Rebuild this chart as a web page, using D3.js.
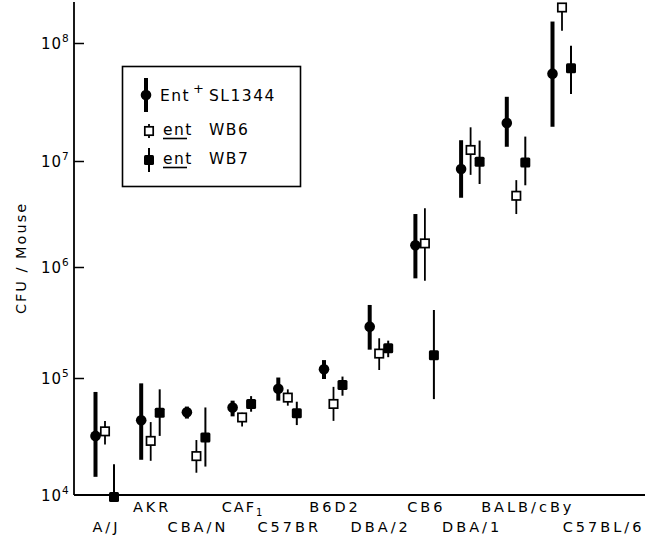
<!DOCTYPE html>
<html>
<head>
<meta charset="utf-8">
<script src="https://cdn.jsdelivr.net/npm/d3@7"></script>
<style>
  body { margin: 0; background: #fff; }
  svg { display: block; font-family: "DejaVu Sans", sans-serif; }
</style>
</head>
<body>
<svg id="chart" width="648" height="537"></svg>
<script>
// mouse strains, left to right
const strains = ["A/J", "AKR", "CBA/N", "CAF1", "C57BR", "B6D2", "DBA/2", "CB6", "DBA/1", "BALB/cBy", "C57BL/6"];

// Ent+ SL1344 (filled circle)
const sl1344   = [3.2e4, 4.35e4, 5.1e4, 5.6e4, 8.1e4, 1.2e5, 2.9e5, 1.6e6, 8.4e6, 2.1e7, 5.5e7];
const sl1344Lo = [1.43e4, 2.0e4, 4.5e4, 4.7e4, 6.4e4, 9.8e4, 1.8e5, 7.9e5, 4.5e6, 1.32e7, 1.95e7];
const sl1344Hi = [7.6e4, 9.0e4, 5.7e4, 6.4e4, 1.01e5, 1.45e5, 4.55e5, 3.16e6, 1.5e7, 3.5e7, 1.52e8];

// ent WB6 (open square)
const wb6   = [3.5e4, 2.9e4, 2.15e4, 4.6e4, 6.8e4, 6.0e4, 1.66e5, 1.67e6, 1.24e7, 4.7e6, 2.0e8];
const wb6Lo = [2.7e4, 1.96e4, 1.55e4, 3.85e4, 5.8e4, 4.3e4, 1.18e5, 7.5e5, 7.4e6, 3.16e6, 1.27e8];
const wb6Hi = [4.3e4, 4.2e4, 2.95e4, 5.05e4, 8.0e4, 8.4e4, 2.28e5, 3.58e6, 1.93e7, 6.6e6, 2.0e8];

// ent WB7 (filled square)
const wb7   = [9.6e3, 5.05e4, 3.1e4, 6.0e4, 5.0e4, 8.7e4, 1.85e5, 1.6e5, 9.85e6, 9.7e6, 6.1e7];
const wb7Lo = [9.6e3, 3.2e4, 1.75e4, 5.15e4, 3.96e4, 7.06e4, 1.54e5, 6.6e4, 6.07e6, 5.9e6, 3.7e7];
const wb7Hi = [1.83e4, 8.0e4, 5.6e4, 7.0e4, 6.27e4, 1.03e5, 2.17e5, 4.1e5, 1.49e7, 1.61e7, 9.5e7];

const yTicks = [1e4, 1e5, 1e6, 1e7, 1e8];

const svg = d3.select("#chart");

// hand drawn decades are not quite even, so one segment per decade
const y = d3.scaleLog()
    .domain([1e4, 1e5, 1e6, 1e7, 1e8])
    .range([495, 378, 267, 161, 43]);

const x = d3.scalePoint()
    .domain(strains)
    .range([105, 562]);

const axisLeftX = 74, axisBottomY = 495;

// y axis, ticks pointing inward
const yAxis = svg.append("g")
    .attr("transform", `translate(${axisLeftX},0)`)
    .call(d3.axisLeft(y).tickValues(yTicks).tickSizeInner(-10).tickSizeOuter(0).tickFormat(""));
yAxis.select(".domain").remove();
yAxis.selectAll(".tick line").attr("stroke", "#000").attr("stroke-width", 1.5);
yAxis.selectAll(".tick").filter(d => d === 1e4).select("line").remove();

svg.append("line")
    .attr("x1", axisLeftX).attr("x2", axisLeftX)
    .attr("y1", 2).attr("y2", axisBottomY)
    .attr("stroke", "#000").attr("stroke-width", 1.8);
svg.append("line")
    .attr("x1", axisLeftX).attr("x2", 645)
    .attr("y1", axisBottomY).attr("y2", axisBottomY)
    .attr("stroke", "#000").attr("stroke-width", 1.8);

// 10^n labels
const yl = svg.append("g").selectAll("text")
    .data(yTicks)
    .enter().append("text")
    .attr("x", 41)
    .attr("y", d => y(d) + 5.5)
    .attr("font-size", 15)
    .attr("fill", "#000");
yl.append("tspan").attr("letter-spacing", 1).text("10");
yl.append("tspan")
    .attr("font-size", 10.5)
    .attr("dy", -7)
    .text(d => Math.round(Math.log10(d)));

svg.append("text")
    .attr("transform", "translate(26,258) rotate(-90)")
    .attr("text-anchor", "middle")
    .attr("font-size", 14.5)
    .attr("letter-spacing", 2)
    .text("CFU / Mouse");

// strain labels, staggered in two rows
const labelShift = { "BALB/cBy": 10, "C57BL/6": 40 };
const xl = svg.append("g").selectAll("text")
    .data(strains)
    .enter().append("text")
    .attr("x", d => x(d) + (labelShift[d] || 0) + 1.5)
    .attr("y", (d, i) => i % 2 === 0 ? 532 : 512)
    .attr("text-anchor", "middle")
    .attr("font-size", 14.5)
    .attr("letter-spacing", 3);
xl.each(function (d) {
    const t = d3.select(this);
    if (d === "CAF1") {
        t.append("tspan").attr("letter-spacing", 2).text("CAF");
        t.append("tspan").attr("font-size", 10).attr("dy", 4).text("1");
    } else {
        t.text(d);
    }
});

// series drawing
const series = [
    { key: "sl1344", v: sl1344, lo: sl1344Lo, hi: sl1344Hi, dx: -9.5, bar: 4, shape: "circle" },
    { key: "wb6", v: wb6, lo: wb6Lo, hi: wb6Hi, dx: 0, bar: 1.8, shape: "open" },
    { key: "wb7", v: wb7, lo: wb7Lo, hi: wb7Hi, dx: 9, bar: 2, shape: "filled" }
];

function drawMarker(g, shape, cx, cy) {
    if (shape === "circle") {
        g.append("circle").attr("cx", cx).attr("cy", cy).attr("r", 5.3).attr("fill", "#000");
    } else if (shape === "open") {
        g.append("rect").attr("x", cx - 4.2).attr("y", cy - 4.2).attr("width", 8.4).attr("height", 8.4)
            .attr("fill", "#fff").attr("stroke", "#000").attr("stroke-width", 1.7);
    } else {
        g.append("rect").attr("x", cx - 5).attr("y", cy - 5).attr("width", 10).attr("height", 10)
            .attr("rx", 1.5).attr("fill", "#000");
    }
}

series.forEach(s => {
    const g = svg.append("g").attr("class", s.key);
    g.selectAll("line")
        .data(strains)
        .enter().append("line")
        .attr("x1", d => x(d) + s.dx).attr("x2", d => x(d) + s.dx)
        .attr("y1", (d, i) => y(s.hi[i]))
        .attr("y2", (d, i) => y(s.lo[i]))
        .attr("stroke", "#000")
        .attr("stroke-width", s.bar);
    strains.forEach((d, i) => drawMarker(g, s.shape, x(d) + s.dx, y(s.v[i])));
});

// legend
const lg = svg.append("g");
lg.append("rect")
    .attr("x", 122.5).attr("y", 66.5).attr("width", 178).attr("height", 120)
    .attr("fill", "#fff").attr("stroke", "#000").attr("stroke-width", 1.6);

const legendRows = [
    { shape: "circle", cy: 95, half: 17, bar: 4, base: 101, pre: "Ent", name: "SL1344" },
    { shape: "open", cy: 131, half: 7, bar: 1.8, base: 135, pre: "ent", name: "WB6" },
    { shape: "filled", cy: 160, half: 12, bar: 2, base: 164, pre: "ent", name: "WB7" }
];
legendRows.forEach((r, i) => {
    const sx = i === 0 ? 146 : 149;
    lg.append("line")
        .attr("x1", sx).attr("x2", sx)
        .attr("y1", r.cy - r.half).attr("y2", r.cy + r.half)
        .attr("stroke", "#000").attr("stroke-width", r.bar);
    drawMarker(lg, r.shape, sx, r.cy);
    const t = lg.append("text")
        .attr("x", i === 0 ? 160 : 163)
        .attr("y", r.base)
        .attr("font-size", 15.5)
        .attr("letter-spacing", 1.5);
    if (i === 0) {
        t.append("tspan").text("Ent");
        t.append("tspan").attr("x", 193).attr("dy", -8).attr("font-size", 13).text("+");
        t.append("tspan").attr("x", 209).attr("dy", 8).text(r.name);
    } else {
        t.append("tspan").text(r.pre);
        t.append("tspan").attr("x", 209).text(r.name);
        lg.append("line")
            .attr("x1", 163).attr("x2", 187)
            .attr("y1", r.base + 3.5).attr("y2", r.base + 3.5)
            .attr("stroke", "#000").attr("stroke-width", 1.6);
    }
});
</script>
</body>
</html>
